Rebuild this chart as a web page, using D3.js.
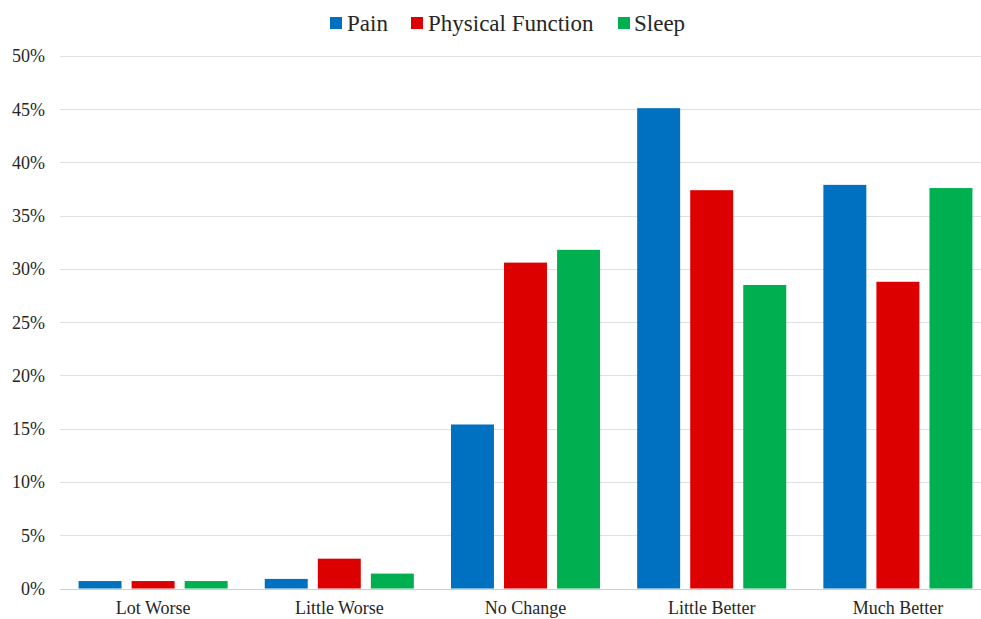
<!DOCTYPE html>
<html>
<head>
<meta charset="utf-8">
<script src="https://cdn.jsdelivr.net/npm/d3@7"></script>
<style>
  html, body { margin: 0; padding: 0; background: #fff; }
  svg { display: block; }
</style>
</head>
<body>
<svg id="chart" width="981" height="619"></svg>
<script>
// Response categories and share of patients (%) per outcome
const categories = ["Lot Worse", "Little Worse", "No Change", "Little Better", "Much Better"];
const seriesNames = ["Pain", "Physical Function", "Sleep"];
const pain = [0.7, 0.9, 15.4, 45.1, 37.9];
const physicalFunction = [0.7, 2.8, 30.6, 37.4, 28.8];
const sleep = [0.7, 1.4, 31.8, 28.5, 37.6];
const yTicks = [0, 5, 10, 15, 20, 25, 30, 35, 40, 45, 50];
const colors = ["#0070C0", "#DD0000", "#00B050"];

const FONT = "Liberation Serif, Times New Roman, serif";
const TEXT_COLOR = "#262626";

const seriesValues = [pain, physicalFunction, sleep];
const rows = categories.map((c, i) => ({
  category: c,
  values: seriesNames.map((s, j) => ({ series: s, value: seriesValues[j][i], idx: j }))
}));

const svg = d3.select("#chart");
const margin = { left: 60, right: 991, top: 56, bottom: 588.5 };

const x = d3.scaleBand().domain(categories).range([margin.left, margin.right]).paddingInner(0).paddingOuter(0);
const xInner = d3.scaleBand().domain(seriesNames).range([0, x.bandwidth()]).paddingInner(0.19).paddingOuter(0.35);
const y = d3.scaleLinear().domain([0, 50]).range([margin.bottom, margin.top]);

// Horizontal gridlines
svg.append("g")
  .selectAll("line")
  .data(yTicks)
  .join("line")
  .attr("x1", margin.left)
  .attr("x2", margin.right)
  .attr("y1", d => Math.round(y(d)) + 0.5)
  .attr("y2", d => Math.round(y(d)) + 0.5)
  .attr("stroke", d => d === 0 ? "#cfcfcf" : "#e0e0e0")
  .attr("stroke-width", 1);

// Y axis labels
const yAxis = d3.axisLeft(y).tickValues(yTicks).tickFormat(d => d + "%").tickSize(0).tickPadding(0);
const gy = svg.append("g").attr("transform", `translate(${margin.left - 15},0)`).call(yAxis);
gy.select(".domain").remove();
gy.attr("font-family", FONT);
gy.selectAll("text")
  .attr("font-size", 18)
  .attr("font-family", FONT)
  .attr("fill", TEXT_COLOR);

// Bars
const groups = svg.append("g")
  .selectAll("g")
  .data(rows)
  .join("g")
  .attr("transform", d => `translate(${x(d.category)},0)`);

groups.selectAll("rect")
  .data(d => d.values)
  .join("rect")
  .attr("x", d => xInner(d.series))
  .attr("width", xInner.bandwidth())
  .attr("y", d => y(d.value))
  .attr("height", d => y(0) - y(d.value))
  .attr("fill", d => colors[d.idx]);

// X axis category labels
const xAxis = d3.axisBottom(x).tickSize(0).tickPadding(0);
const gx = svg.append("g").attr("transform", `translate(0,${margin.bottom + 12.5})`).call(xAxis);
gx.select(".domain").remove();
gx.attr("font-family", FONT);
gx.selectAll("text")
  .attr("font-size", 18)
  .attr("font-family", FONT)
  .attr("fill", TEXT_COLOR);

// Legend
const legendItems = [
  { name: "Pain", sx: 330, tx: 347 },
  { name: "Physical Function", sx: 411, tx: 428 },
  { name: "Sleep", sx: 618, tx: 634 }
];
const legend = svg.append("g");
legendItems.forEach((item, i) => {
  legend.append("rect")
    .attr("x", item.sx).attr("y", 17)
    .attr("width", 12).attr("height", 12)
    .attr("fill", colors[i]);
  legend.append("text")
    .attr("x", item.tx).attr("y", 31)
    .attr("font-size", 23)
    .attr("font-family", FONT)
    .attr("fill", TEXT_COLOR)
    .text(item.name);
});
</script>
</body>
</html>
